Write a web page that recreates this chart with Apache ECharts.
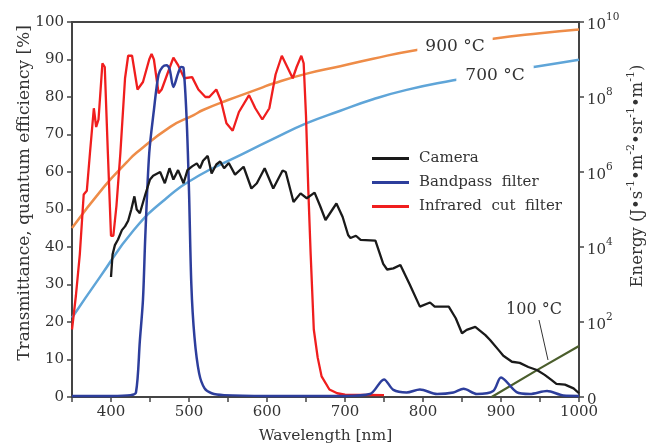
<!DOCTYPE html>
<html>
<head>
<meta charset="utf-8">
<script src="https://cdn.jsdelivr.net/npm/echarts@6/dist/echarts.min.js"></script>
<style>
  html, body { margin: 0; padding: 0; background: #fff; }
  #chart { width: 646px; height: 446px; }
</style>
</head>
<body>
<div id="chart"></div>
<script>
// Camera quantum efficiency [%]
const cameraWl = [400, 402, 405, 409, 414, 418, 422, 426, 430, 433, 437, 444, 450, 454, 463, 469, 475, 480, 486, 493, 498, 504, 510, 514, 518, 524, 529, 535, 540, 545, 551, 559, 570, 580, 587, 597, 608, 620, 624, 634, 643, 651, 661, 668, 675, 689, 697, 704, 707, 714, 720, 739, 749, 754, 762, 771, 783, 796, 809, 815, 833, 842, 850, 856, 867, 880, 886, 897, 903, 914, 924, 935, 946, 956, 965, 971, 982, 993, 1000]
const cameraQe = [32, 38, 40.5, 42, 44.5, 45.5, 47, 50, 53.5, 50, 49, 54, 58, 59, 60, 57, 61, 58, 60.5, 57, 60.5, 61.5, 62.3, 61, 63, 64.3, 59.6, 62, 62.8, 61, 62.4, 59.3, 61.4, 55.6, 57, 61, 55.6, 60.4, 60, 52, 54.3, 53, 54.5, 51, 47.2, 51.6, 48, 43.2, 42.4, 43, 41.9, 41.7, 35.5, 34, 34.3, 35.2, 30, 24.1, 25.2, 24.1, 24.1, 21, 17, 17.9, 18.7, 16.5, 15.2, 12.5, 11, 9.4, 9.1, 8, 7.2, 5.9, 4.5, 3.5, 3.3, 2.3, 1]

// Bandpass filter transmittance [%]
const bandWl = [350, 400, 425, 432, 437, 441, 444, 449, 455, 461, 466, 471, 475, 480, 486, 490, 493, 497, 500, 503, 507, 513, 520, 529, 545, 600, 700, 732, 750, 762, 779, 796, 818, 839, 852, 869, 890, 900, 920, 937, 959, 980, 1000]
const bandTr = [0.3, 0.3, 0.5, 1.2, 15, 26, 43, 65, 76.5, 86, 88, 88.5, 87.5, 82.7, 86.3, 88, 87.7, 74, 55, 30, 16, 6.3, 2.3, 1, 0.5, 0.3, 0.3, 0.8, 4.7, 1.9, 1.2, 2, 0.8, 1.2, 2.2, 0.8, 1.6, 5.2, 1.3, 0.8, 1.6, 0.4, 0.3]

// Infrared cut filter transmittance [%]
const irWl = [350, 355, 360, 365, 369, 373, 378, 381, 384, 389, 392, 396, 400, 403, 407, 412, 418, 422, 427, 434, 441, 449, 452, 455, 461, 465, 472, 480, 486, 494, 504, 512, 521, 526, 535, 541, 548, 556, 564, 577, 585, 594, 603, 611, 619, 626, 633, 638, 644, 647, 650, 653, 656, 660, 665, 670, 680, 690, 700, 750]
const irTr = [18, 27, 38, 54, 55, 65, 77, 72, 74, 89, 88, 65, 43, 43, 51, 65, 85, 91, 91, 82, 84, 90, 91.5, 90, 81, 82, 86, 90.5, 88.5, 85, 85.3, 82, 80, 80, 82, 79, 73, 71, 76, 80.5, 77, 74, 77, 86, 91, 88, 85, 88, 91, 89, 75, 55, 38, 18, 10.5, 5.5, 2, 1, 0.6, 0.5]

// Blackbody energy (J·s-1·m-2·sr-1·m-1)
const t900Wl = [350, 391, 420, 433, 476, 506, 518, 550, 591, 608, 651, 694, 736, 792, 890, 950, 1000]
const t900E = [3.2e4, 4.0e5, 1.8e6, 3.3e6, 1.6e7, 3.3e7, 4.5e7, 8.3e7, 1.7e8, 2.3e8, 4.2e8, 6.6e8, 1.05e9, 1.8e9, 3.6e9, 5.0e9, 6.3e9]
const t700Wl = [350, 386, 429, 471, 514, 557, 608, 651, 694, 736, 779, 839, 890, 946, 1000]
const t700E = [1.3e2, 1.6e3, 2.8e4, 2.0e5, 8.3e5, 2.3e6, 7.6e6, 2.0e7, 4.3e7, 8.7e7, 1.55e8, 2.8e8, 4.4e8, 6.5e8, 9.8e8]
const t100Wl = [888, 950, 1000]
const t100E = [1, 5.8, 23]

const xTicks = { min: 350, max: 1000, step: 50 }
const leftTicks = { min: 0, max: 100, step: 10 }
const rightTicks = { min: 1, max: 1e10, decadeStep: 2 }

const font = '"DejaVu Serif", "Liberation Serif", serif'
const fs = 15
const pairs = (xs, ys) => xs.map((x, i) => [x, ys[i]])

const myChart = echarts.init(document.getElementById('chart'), null, { renderer: 'canvas' })

const option = {
  animation: false,
  textStyle: { fontFamily: font, color: '#333' },
  grid: {
    left: 72, right: 67, top: 22, bottom: 49,
    outerBoundsMode: 'none',
    containLabel: false,
    show: true, borderColor: '#444', borderWidth: 2
  },
  legend: {
    data: ['Camera', 'Bandpass  filter', 'Infrared  cut  filter'],
    orient: 'vertical',
    left: 367,
    top: 146,
    icon: 'rect',
    itemWidth: 37,
    itemHeight: 3,
    itemGap: 9,
    textStyle: { fontFamily: font, fontSize: fs, color: '#333', padding: [0, 0, 0, 5] }
  },
  xAxis: {
    type: 'value',
    min: xTicks.min,
    max: xTicks.max,
    interval: xTicks.step,
    name: 'Wavelength [nm]',
    nameLocation: 'middle',
    nameGap: 31,
    nameTextStyle: { fontFamily: font, fontSize: 15.5, color: '#333' },
    axisLine: { lineStyle: { color: '#444', width: 2 } },
    axisTick: { length: 5, lineStyle: { color: '#444', width: 1.5 } },
    splitLine: { show: false },
    axisLabel: {
      fontFamily: font, fontSize: fs, color: '#333', margin: 8,
      formatter: v => (v % 100 === 0 ? String(v) : '')
    }
  },
  yAxis: [
    {
      type: 'value',
      min: leftTicks.min,
      max: leftTicks.max,
      interval: leftTicks.step,
      axisLine: { show: true, lineStyle: { color: '#444', width: 2 } },
      axisTick: { show: true, length: 5, lineStyle: { color: '#444', width: 1.5 } },
      splitLine: { show: false },
      axisLabel: { fontFamily: font, fontSize: fs, color: '#333', margin: 8 }
    },
    {
      type: 'log',
      logBase: 10,
      min: rightTicks.min,
      max: rightTicks.max,
      interval: rightTicks.decadeStep,
      position: 'right',
      axisLine: { show: true, lineStyle: { color: '#444', width: 2 } },
      axisTick: { show: true, length: 5, lineStyle: { color: '#444', width: 1.5 } },
      splitLine: { show: false },
      minorTick: { show: false },
      axisLabel: {
        margin: 8,
        formatter: v => {
          const e = Math.round(Math.log10(v))
          return e === 0 ? '{b|0}' : '{b|10}{s|' + e + '}'
        },
        rich: {
          b: { fontFamily: font, fontSize: fs, color: '#333', lineHeight: 21, verticalAlign: 'bottom' },
          s: { fontFamily: font, fontSize: 10.5, color: '#333', lineHeight: 11, verticalAlign: 'top' }
        }
      }
    }
  ],
  series: [
    {
      name: '900 °C', type: 'line', yAxisIndex: 1, symbol: 'none', smooth: true,
      lineStyle: { color: '#ee8c48', width: 2.5 }, itemStyle: { color: '#ee8c48' },
      data: pairs(t900Wl, t900E)
    },
    {
      name: '700 °C', type: 'line', yAxisIndex: 1, symbol: 'none', smooth: true,
      lineStyle: { color: '#5fa5d8', width: 2.5 }, itemStyle: { color: '#5fa5d8' },
      data: pairs(t700Wl, t700E)
    },
    {
      name: '100 °C', type: 'line', yAxisIndex: 1, symbol: 'none',
      lineStyle: { color: '#4b5e2c', width: 2.2 }, itemStyle: { color: '#4b5e2c' },
      data: pairs(t100Wl, t100E)
    },
    {
      name: 'Infrared  cut  filter', type: 'line', symbol: 'none',
      lineStyle: { color: '#f01e1e', width: 2.3 }, itemStyle: { color: '#f01e1e' },
      data: pairs(irWl, irTr)
    },
    {
      name: 'Bandpass  filter', type: 'line', symbol: 'none', smooth: 0.3,
      lineStyle: { color: '#2d3e9c', width: 2.5 }, itemStyle: { color: '#2d3e9c' },
      data: pairs(bandWl, bandTr)
    },
    {
      name: 'Camera', type: 'line', symbol: 'none',
      lineStyle: { color: '#1a1a1a', width: 2.3 }, itemStyle: { color: '#1a1a1a' },
      data: pairs(cameraWl, cameraQe)
    }
  ],
  graphic: [
    {
      type: 'text', x: 455, y: 47, z: 100,
      style: { text: '900 °C', font: '17px ' + font, fill: '#333', align: 'center', verticalAlign: 'middle',
        backgroundColor: '#fff', padding: [2, 8] }
    },
    {
      type: 'text', x: 495, y: 76, z: 100,
      style: { text: '700 °C', font: '17px ' + font, fill: '#333', align: 'center', verticalAlign: 'middle',
        backgroundColor: '#fff', padding: [2, 9] }
    },
    {
      type: 'text', x: 534, y: 310, z: 100,
      style: { text: '100 °C', font: '16px ' + font, fill: '#333', align: 'center', verticalAlign: 'middle' }
    },
    {
      type: 'line', z: 100,
      shape: { x1: 539, y1: 320, x2: 548, y2: 360 },
      style: { stroke: '#333', lineWidth: 1 }
    },
    {
      type: 'text', x: 25, y: 193, rotation: Math.PI / 2, z: 100,
      style: { text: 'Transmittance, quantum efficiency [%]', font: '17px ' + font, fill: '#333',
        align: 'center', verticalAlign: 'middle' }
    },
    {
      type: 'text', x: 636, y: 176, rotation: Math.PI / 2, z: 100,
      style: {
        text: '{b|Energy (J•s}{s|-1}{b|•m}{s|-2}{b|•sr}{s|-1}{b|•m}{s|-1}{b|)}',
        align: 'center', verticalAlign: 'middle',
        rich: {
          b: { fontFamily: font, fontSize: 16.5, fill: '#333', color: '#333', lineHeight: 21, verticalAlign: 'bottom' },
          s: { fontFamily: font, fontSize: 11, fill: '#333', color: '#333', lineHeight: 11, verticalAlign: 'top' }
        }
      }
    }
  ]
}

option && myChart.setOption(option)
</script>
</body>
</html>
